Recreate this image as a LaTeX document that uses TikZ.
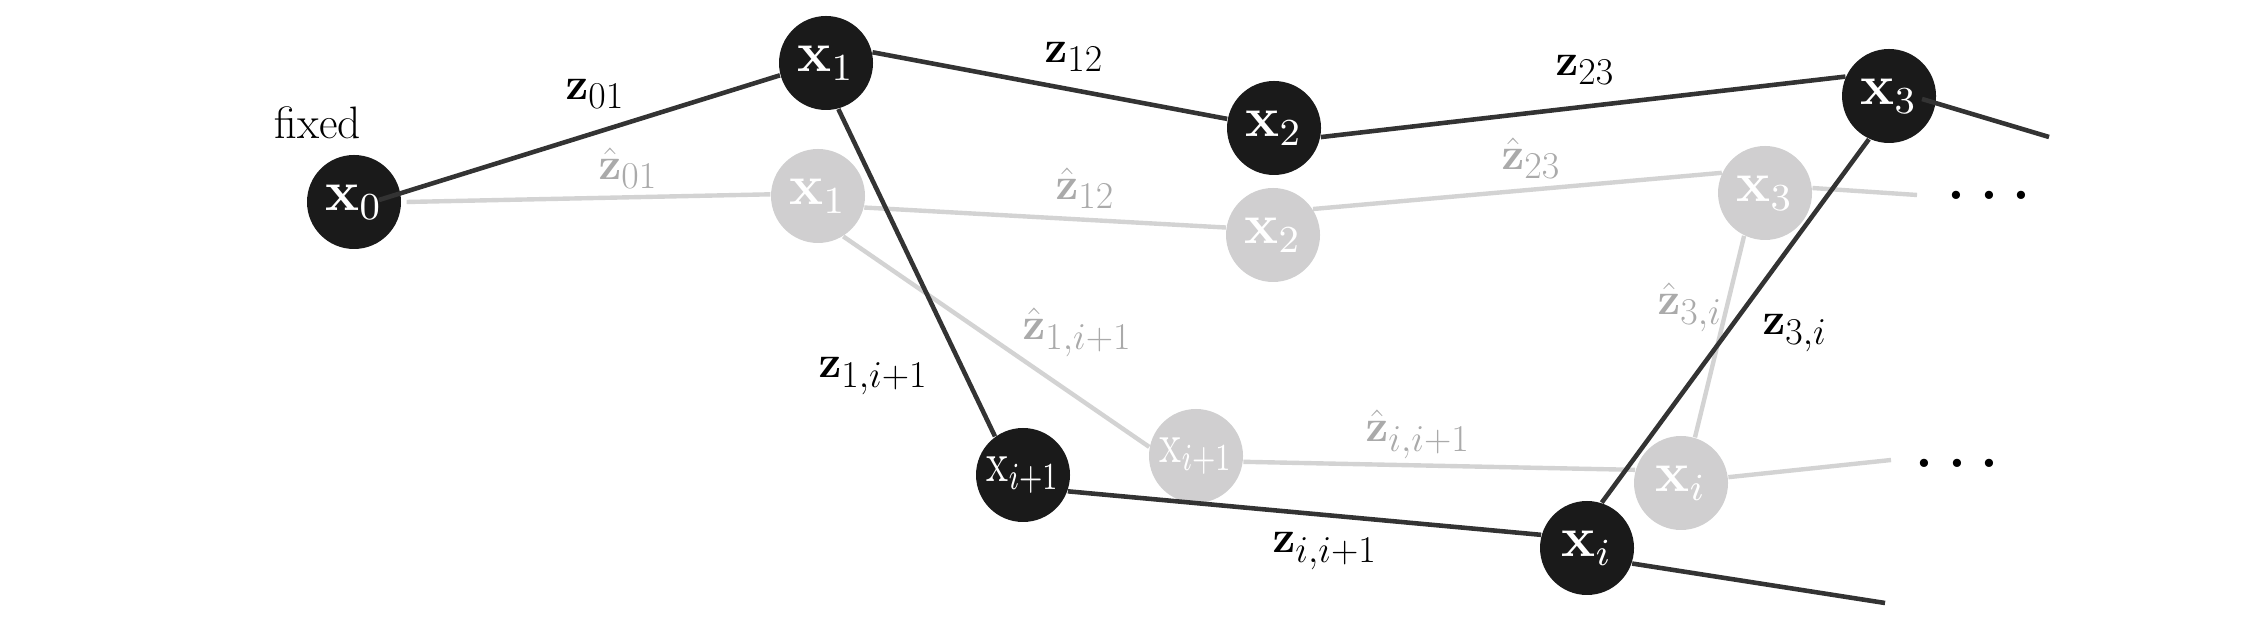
\documentclass[tikz,border=0pt]{standalone}
\usepackage{graphicx}
\definecolor{nodeblack}{HTML}{1A1A1A}
\definecolor{nodegray}{HTML}{D0CFD0}
\definecolor{lineblack}{HTML}{333333}
\definecolor{linegray}{HTML}{D3D3D3}
\definecolor{labgray}{HTML}{AAAAAA}
\newcommand\lb[1]{\scalebox{0.52}{\Huge #1}}
\newcommand\nd[1]{\scalebox{1.36}{\large #1}}
\tikzset{
  bnode/.style={circle, fill=nodeblack, minimum size=0.94cm, inner sep=0pt, text=white},
  gnode/.style={circle, fill=nodegray, minimum size=0.94cm, inner sep=0pt, text=white},
  bline/.style={draw=lineblack, line width=1.3pt},
  gline/.style={draw=linegray, line width=1.25pt},
  blabel/.style={inner sep=0pt, anchor=base west, text=black},
  glabel/.style={inner sep=0pt, anchor=base west, text=labgray},
  dotsnode/.style={inner sep=0pt, text=black}
}
\begin{document}
\begin{tikzpicture}
\useasboundingbox (0,0) rectangle (22.5,6.3);
% gray nodes
\node[gnode] (g1) at (8.18,4.34) {\nd{$\mathbf{x}_1$}};
\node[gnode] (g2) at (12.73,3.95) {\nd{$\mathbf{x}_2$}};
\node[gnode] (g3) at (17.65,4.37) {\nd{$\mathbf{x}_3$}};
\node[gnode] (gi1) at (11.96,1.74) {\scalebox{0.74}[1]{\nd{$\mathrm{x}_{i+1}$}}};
\node[gnode] (gi) at (16.81,1.47) {\nd{$\mathbf{x}_i$}};
% black nodes
\node[bnode] (x0) at (3.54,4.28) {\nd{$\mathbf{x}_0$}};
\node[bnode] (x1) at (8.26,5.67) {\nd{$\mathbf{x}_1$}};
\node[bnode] (x2) at (12.74,5.02) {\nd{$\mathbf{x}_2$}};
\node[bnode] (x3) at (18.89,5.34) {\nd{$\mathbf{x}_3$}};
\node[bnode] (xi1) at (10.23,1.55) {\scalebox{0.74}[1]{\nd{$\mathrm{x}_{i+1}$}}};
\node[bnode] (xi) at (15.87,0.82) {\nd{$\mathbf{x}_i$}};
% free ends
\coordinate (e3) at (20.49,4.93);
\coordinate (ei) at (18.85,0.27);
\coordinate (eg3) at (19.17,4.35);
\coordinate (egi) at (18.91,1.70);
% gray lines
\draw[gline] ([xshift=0.05cm]x0.0) -- (g1.178);
\draw[gline] (g1.346) -- (g2.171);
\draw[gline] (g2.33) -- (g3.155);
\draw[gline] (g3.6) -- (eg3);
\draw[gline] (g1.302) -- (gi1.169);
\draw[gline] (gi1.353) -- (gi.164);
\draw[gline] (gi.7) -- (egi);
\draw[gline] (g3.244) -- (gi.73);
% black lines
\draw[bline] ([xshift=0.25cm,yshift=0.02cm]x0.center) -- (x1.195);
\draw[bline] (x1.13) -- (x2.169);
\draw[bline] (x2.349) -- (x3.156);
\draw[bline] ([xshift=0.33cm,yshift=-0.03cm]x3.center) -- (e3);
\draw[bline] (x1.285) -- (xi1.126);
\draw[bline] (xi1.340) -- (xi.164);
\draw[bline] (xi.341) -- (ei);
\draw[bline] (x3.245) -- (xi.72);
% dots
\node[dotsnode] (d1) at (19.89,4.35) {\nd{\textbf{.\hspace{3.05pt}.\hspace{3.05pt}.}}};
\node[dotsnode] (d2) at (19.57,1.67) {\nd{\textbf{.\hspace{3.05pt}.\hspace{3.05pt}.}}};
% labels
\node[inner sep=0pt, anchor=base] (fx) at (3.18,4.91) {\lb{fixed}};
\node[blabel] (l01) at (5.65,5.30) {\lb{$\mathbf{z}_{01}$}};
\node[blabel] (l12) at (10.44,5.67) {\lb{$\mathbf{z}_{12}$}};
\node[blabel] (l23) at (15.55,5.54) {\lb{$\mathbf{z}_{23}$}};
\node[glabel] (h01) at (5.98,4.50) {\lb{$\hat{\mathbf{z}}_{01}$}};
\node[glabel] (h12) at (10.55,4.30) {\lb{$\hat{\mathbf{z}}_{12}$}};
\node[glabel] (h23) at (15.01,4.60) {\lb{$\hat{\mathbf{z}}_{23}$}};
\node[glabel] (h1i) at (10.22,2.90) {\lb{$\hat{\mathbf{z}}_{1,i+1}$}};
\node[blabel] (l1i) at (8.18,2.52) {\lb{$\mathbf{z}_{1,i+1}$}};
\node[glabel] (hii) at (13.65,1.88) {\lb{$\hat{\mathbf{z}}_{i,i+1}$}};
\node[blabel] (lii) at (12.72,0.77) {\lb{$\mathbf{z}_{i,i+1}$}};
\node[glabel] (h3i) at (16.57,3.15) {\lb{$\hat{\mathbf{z}}_{3,i}$}};
\node[blabel] (l3i) at (17.62,2.95) {\lb{$\mathbf{z}_{3,i}$}};
\end{tikzpicture}
\end{document}
